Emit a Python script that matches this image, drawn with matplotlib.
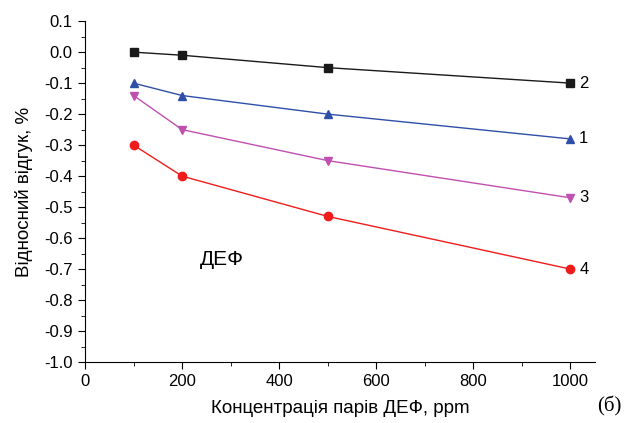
import matplotlib
matplotlib.use("Agg")
import matplotlib.pyplot as plt
from matplotlib.ticker import MultipleLocator

plt.rcParams['font.family'] = ['Liberation Sans', 'DejaVu Sans']

conc = [100, 200, 500, 1000]
s2 = [0.0, -0.01, -0.05, -0.10]
s1 = [-0.10, -0.14, -0.20, -0.28]
s3 = [-0.14, -0.25, -0.35, -0.47]
s4 = [-0.30, -0.40, -0.53, -0.70]

series = [
    (s2, '#1a1a1a', 's', '2'),
    (s1, '#2f4fa8', '^', '1'),
    (s3, '#c050b0', 'v', '3'),
    (s4, '#f01c1c', 'o', '4'),
]

fig = plt.figure(figsize=(6.3, 4.23), dpi=100)
ax = fig.add_axes([0.135, 0.144, 0.809, 0.806])

for vals, col, mk, lab in series:
    ax.plot(conc, vals, color=col, marker=mk, markersize=6, linewidth=1)
    ax.text(conc[-1] + 18, vals[-1], lab, fontsize=12, va='center', ha='left')

ax.text(237, -0.67, 'ДЕФ', fontsize=15, va='center', ha='left')

ax.set_xlim(0, 1050)
ax.set_ylim(-1.0, 0.1)
ax.xaxis.set_major_locator(MultipleLocator(200))
ax.xaxis.set_minor_locator(MultipleLocator(100))
ax.yaxis.set_major_locator(MultipleLocator(0.1))
ax.yaxis.set_minor_locator(MultipleLocator(0.05))
ax.yaxis.set_major_formatter(plt.FuncFormatter(lambda v, p: '%.1f' % v))
ax.tick_params(which='both', direction='out', labelsize=12)
ax.tick_params(which='major', length=5)
ax.tick_params(which='minor', length=3)
ax.tick_params(axis='y', pad=4)
ax.spines['top'].set_visible(False)
ax.spines['right'].set_visible(False)

ax.set_xlabel('Концентрація парів ДЕФ, ppm', fontsize=13.5, labelpad=8)
ax.set_ylabel('Відносний відгук, %', fontsize=13.5, labelpad=8)

fig.text(0.948, 0.015, '(б)', fontsize=15, family='Liberation Serif', ha='left', va='bottom')

fig.savefig('out.png', dpi=100)
